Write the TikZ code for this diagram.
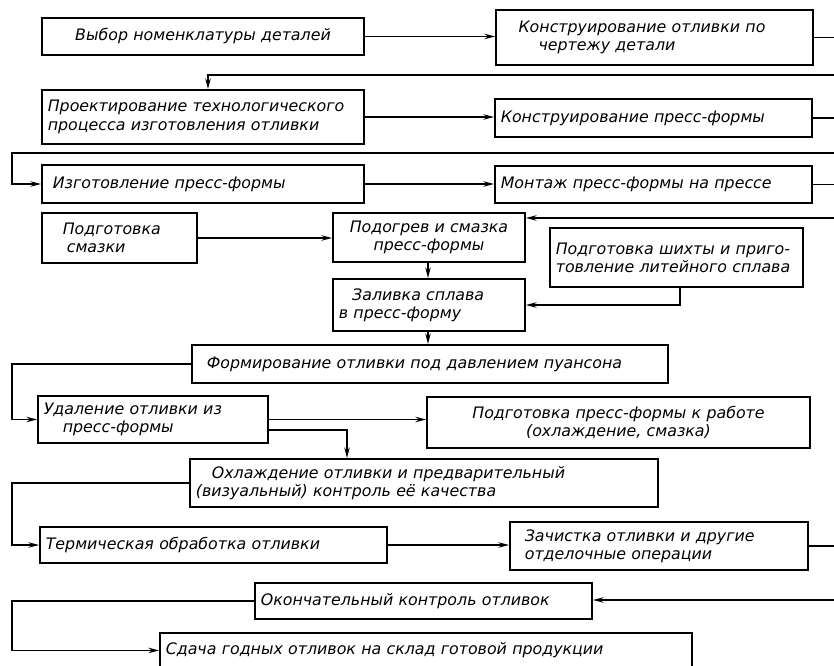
\documentclass[tikz,border=0pt]{standalone}
\usepackage{fontspec}
\setmainfont{DejaVu Sans}
\usepackage{tikz}
\usetikzlibrary{positioning,arrows.meta}
\tikzset{
    >={Stealth[length=9pt,width=4.6pt]},
    blok/.style={
        rectangle,
        draw,
        line width=1.6pt,
        inner xsep=5pt,
        inner ysep=1pt,
        align=left,
        font={\itshape\fontsize{13.5pt}{15.6pt}\selectfont}
    },
    line/.style={draw, line width=1.5pt, ->},
    plain/.style={draw, line width=1.5pt},
}

\begin{document}
\begin{tikzpicture}
\useasboundingbox (0,0) rectangle (25.02,-19.98);

% rails at the left and right edges
\coordinate (lrail) at (0.36,0);
\coordinate (rrail) at (25.1,0);

\node[blok, text width=9.31cm, minimum height=1.11cm, align=center] (vybor) at (6.09,-1.095) {Выбор номенклатуры деталей};
\node[blok, text width=9.16cm, minimum height=1.65cm] (konstr) at (19.635,-1.125) {\hspace{0.5cm}Конструирование отливки по\\\hspace{1.1cm}чертежу детали};
\node[blok, text width=9.31cm, minimum height=1.62cm] (proekt) at (6.09,-3.51) {Проектирование технологического\\процесса изготовления отливки};
\node[blok, text width=9.16cm, minimum height=1.14cm] (konstrpf) at (19.605,-3.54) {Конструирование пресс-формы};
\node[blok, text width=9.31cm, minimum height=1.14cm] (izgot) at (6.09,-5.52) {\hspace{0.15cm}Изготовление пресс-формы};
\node[blok, text width=9.16cm, minimum height=1.11cm] (montazh) at (19.605,-5.535) {Монтаж пресс-формы на прессе};

\node[blok, text width=4.3cm, minimum height=1.5cm] (smazka) at (3.585,-7.14) {\hspace{0.45cm}Подготовка\\\hspace{0.57cm}смазки};
\node[blok, text width=5.41cm, minimum height=1.47cm, align=center] (podogrev) at (12.87,-7.125) {Подогрев и смазка\\пресс-формы};
\node[blok, text width=5.41cm, minimum height=1.56cm] (zalivka) at (12.87,-9.15) {\hspace{0.4cm}Заливка сплава\\в пресс-форму};
\node[blok, text width=7.24cm, minimum height=1.77cm] (shikhta) at (20.295,-7.725) {Подготовка шихты и приго-\\товление литейного сплава};
\node[blok, text width=13.93cm, minimum height=1.14cm] (formir) at (12.9,-10.92) {\hspace{0.27cm}Формирование отливки под давлением пуансона};

\node[blok, text width=6.55cm, minimum height=1.41cm] (udalen) at (4.59,-12.585) {Удаление отливки из\\\hspace{0.57cm}пресс-формы};
\node[blok, text width=11.14cm, minimum height=1.53cm, align=center] (podgpf) at (18.555,-12.675) {Подготовка пресс-формы к работе\\(охлаждение, смазка)};
\node[blok, text width=13.69cm, minimum height=1.44cm] (okhlazh) at (12.72,-14.49) {\hspace{0.48cm}Охлаждение отливки и предварительный\\(визуальный) контроль её качества};
\node[blok, text width=10.06cm, minimum height=1.08cm] (termo) at (6.405,-16.35) {Термическая обработка отливки};
\node[blok, text width=8.59cm, minimum height=1.44cm] (zachist) at (19.77,-16.38) {\hspace{0.27cm}Зачистка отливки и другие\\\hspace{0.27cm}отделочные операции};
\node[blok, text width=9.76cm, minimum height=1.08cm] (kontrol) at (12.705,-18.03) {Окончательный контроль отливок};
\node[blok, text width=15.61cm, minimum height=1.05cm, anchor=north] (sdacha) at (12.78,-18.96) {Сдача годных отливок на склад готовой продукции};

% connectors
\coordinate (r1) at (25.1,-2.25);
\coordinate (r2) at (25.1,-4.59);
\coordinate (r3) at (25.1,-6.54);
\coordinate (r4) at (25.1,-18.0);

\path[line] (vybor.east) -- (vybor.east -| konstr.west);
\path[plain] (konstr.east) -- (konstr.east -| rrail);
\path[line] (r1) -| ([xshift=0.15cm]proekt.north);
\path[line] (proekt.east) -- (proekt.east -| konstrpf.west);
\path[plain] (konstrpf.east) -- (konstrpf.east -| rrail);
\path[line] (r2) -- (r2 -| lrail) |- (izgot.west);
\path[line] (izgot.east) -- (izgot.east -| montazh.west);
\path[plain] (montazh.east) -- (montazh.east -| rrail);
\path[line] (r3) -- (r3 -| podogrev.east);
\path[line] (smazka.east) -- (smazka.east -| podogrev.west);
\path[line] ([xshift=-0.03cm]podogrev.south) -- ([xshift=-0.03cm]zalivka.north);
\path[line] ([xshift=0.1cm]shikhta.south) |- (zalivka.east);
\path[line] ([xshift=-0.03cm]zalivka.south) -- ([xshift=-0.03cm]zalivka.south |- formir.north);
\path[line] (formir.west) -- (formir.west -| lrail) |- (udalen.west);
\path[line] (udalen.east) -- (udalen.east -| podgpf.west);
\path[line] ([yshift=-0.315cm]udalen.east) -| ([xshift=-2.31cm]okhlazh.north);
\path[line] (okhlazh.west) -- (okhlazh.west -| lrail) |- (termo.west);
\path[line] (termo.east) -- (termo.east -| zachist.west);
\path[plain] (zachist.east) -- (zachist.east -| rrail);
\path[line] (r4) -- (r4 -| kontrol.east);
\path[line] (kontrol.west) -- (kontrol.west -| lrail) |- (sdacha.west);
\end{tikzpicture}
\end{document}
